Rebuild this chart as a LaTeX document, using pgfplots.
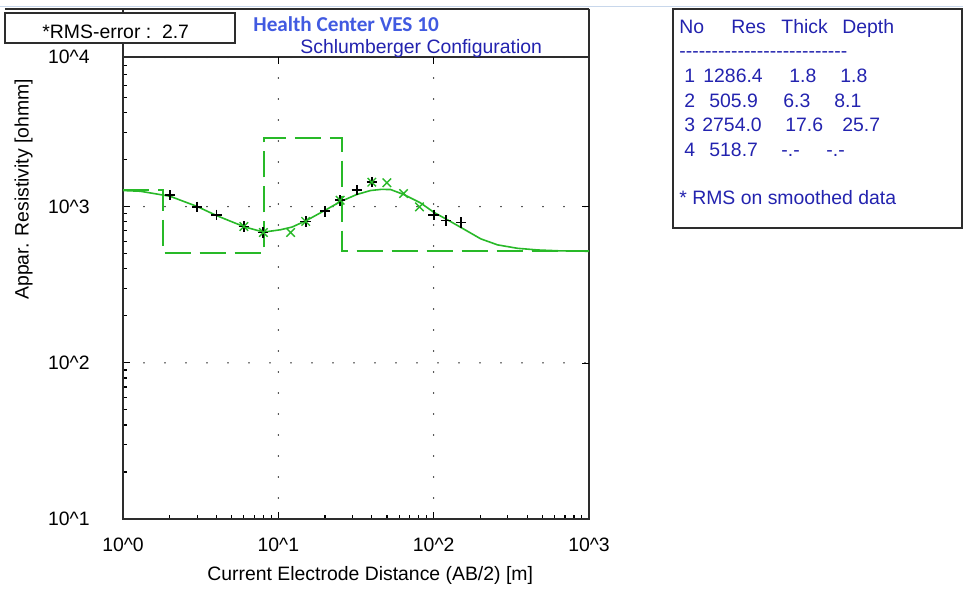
\documentclass[border=0pt]{standalone}
\usepackage{pgfplots}
\pgfplotsset{compat=1.18}
\usepackage{fontspec}
\setmainfont{Liberation Sans}
\newfontfamily\calibri{Carlito}

\definecolor{fitgreen}{RGB}{40,185,40}
\definecolor{titleblue}{RGB}{65,90,225}
\definecolor{txtblue}{RGB}{35,35,175}
\definecolor{framegray}{RGB}{45,45,45}
\definecolor{winblue}{RGB}{200,215,235}
\newcommand\hy{-\kern0pt}

\begin{document}
\fontsize{9.7}{11.6}\selectfont
\begin{tikzpicture}
% whole picture: 963 x 596 px, 1px = 0.5pt, axis SW corner at px (123,519)
\path[use as bounding box, fill=white] (-61.5pt,259.5pt) rectangle (420pt,-38.5pt);

\begin{axis}[
    at={(0pt,0pt)}, anchor=south west,
    scale only axis,
    width=233pt, height=230.85pt,
    xmode=log, ymode=log,
    xmin=1, xmax=1000, ymin=10, ymax=9040,
    axis line style={framegray, line width=1pt},
    tick pos=left, tick align=inside,
    major tick length=3.5pt, minor tick length=2pt,
    tick style={black, line width=0.6pt},
    xtick={1,10,100,1000},
    minor xtick={2,3,4,5,6,7,8,9,20,30,40,50,60,70,80,90,200,300,400,500,600,700,800,900},
    ytick={10,100,1000,9040},
    minor ytick={20,30,40,50,60,70,80,90,200,300,400,500,600,700,800,900,2000,3000,4000,5000,6000,7000,8000,9000},
    xticklabels={10\textasciicircum 0,10\textasciicircum 1,10\textasciicircum 2,10\textasciicircum 3},
    yticklabels={10\textasciicircum 1,10\textasciicircum 2,10\textasciicircum 3,10\textasciicircum 4},
    xticklabel style={anchor=north, inner sep=0pt, yshift=-9.5pt},
    yticklabel style={anchor=east, inner sep=0pt, xshift=-16.5pt},
    grid=major,
    major grid style={black, line width=0.8pt, line cap=round, dash pattern=on 0pt off 10.5pt},
]
% layered model
\addplot[fitgreen, line width=1pt, dash pattern=on 13pt off 4.5pt] coordinates {
    (1,1286.4) (1.8,1286.4) (1.8,505.9) (8.1,505.9) (8.1,2754.0)
    (25.7,2754.0) (25.7,518.7) (1000,518.7)
};
% calculated curve
\addplot[fitgreen, line width=0.8pt] coordinates {
    (1,1268) (1.29,1255) (1.73,1195) (2.01,1165) (2.99,1004) (4.02,875)
    (5.15,792) (6.12,740) (8.04,687) (10.3,711) (12.25,740) (15.2,816)
    (20.3,956) (25.1,1077) (31.9,1195) (39.2,1268) (46,1290) (52.8,1287)
    (64.3,1195) (82.4,1056) (100.4,919) (122.6,824) (153,727) (201,622)
    (258,569) (347,541) (467,528) (650,521) (1000,518)
};
% field data
\addplot[only marks, mark=+, mark size=2.6pt, black, mark options={line width=0.9pt}] coordinates {
    (2,1183) (3,996) (4,888) (6,746) (8,683) (15,804) (20,933) (25,1098)
    (32,1274) (40,1435) (100,888) (120,816) (150,792)
};
% smoothed data
\addplot[only marks, mark=x, mark size=3pt, fitgreen, mark options={line width=0.7pt}] coordinates {
    (6,746) (8,683) (12,683) (15,804) (25,1098) (40,1435) (50,1422) (64,1213) (81,996)
};
\end{axis}

\begin{scope}[shift={(-61.5pt,259.5pt)}, x=0.5pt, y=-0.5pt]
  \draw[winblue, line width=0.5pt] (0,6.5) -- (963,6.5);
  % title frame above the axis
  \draw[framegray, line width=1pt] (5,8.5) -- (589,8.5) (123,8.5) -- (123,57.3) (589,8.5) -- (589,57.3);
  % major ticks on right and top
  \draw[black, line width=0.6pt] (589,206.7) -- (582,206.7) (589,363.3) -- (582,363.3)
        (278.3,57.3) -- (278.3,64.3) (433.6,57.3) -- (433.6,64.3);
  % RMS box
  \draw[framegray, line width=1pt, fill=white] (5,13) rectangle (235,43);
  \node[anchor=base west, inner sep=0pt] at (42,38.3) {*RMS-error :\ \ 2.7};
  % titles
  \node[anchor=base west, inner sep=0pt, text=titleblue, font=\calibri\bfseries\fontsize{10.6}{12}\selectfont] at (253,31.5) {Health Center VES 10};
  \node[anchor=base west, inner sep=0pt, text=txtblue] at (300,53) {Schlumberger Configuration};
  % axis titles
  \node[anchor=base west, inner sep=0pt] at (207,580) {Current Electrode Distance (AB/2) [m]};
  \node[anchor=base west, inner sep=0pt, rotate=90] at (28.6,300) {Appar. Resistivity [ohmm]};
  % layer table
  \draw[framegray, line width=1pt] (673,9) rectangle (962,228);
  \begin{scope}[every node/.style={anchor=base west, inner sep=0pt, text=txtblue}]
    \node at (679,33.3) {No};   \node at (731,33.3) {Res};    \node at (781,33.3) {Thick}; \node at (842,33.3) {Depth};
    \node at (679,57) {\hy\hy\hy\hy\hy\hy\hy\hy\hy\hy\hy\hy\hy\hy\hy\hy\hy\hy\hy\hy\hy\hy\hy\hy\hy\hy};
    \node at (684,82.7) {1};    \node at (703,82.7) {1286.4}; \node at (789,82.7) {1.8};   \node at (840,82.7) {1.8};
    \node at (684,107.3) {2};   \node at (709,107.3) {505.9}; \node at (783,107.3) {6.3};  \node at (834,107.3) {8.1};
    \node at (684,131.7) {3};   \node at (702,131.7) {2754.0};\node at (785,131.7) {17.6}; \node at (842,131.7) {25.7};
    \node at (684,156) {4};     \node at (709,156) {518.7};   \node at (781,156) {-.-};    \node at (826,156) {-.-};
    \node at (679,204) {* RMS on smoothed data};
  \end{scope}
\end{scope}
\end{tikzpicture}
\end{document}
